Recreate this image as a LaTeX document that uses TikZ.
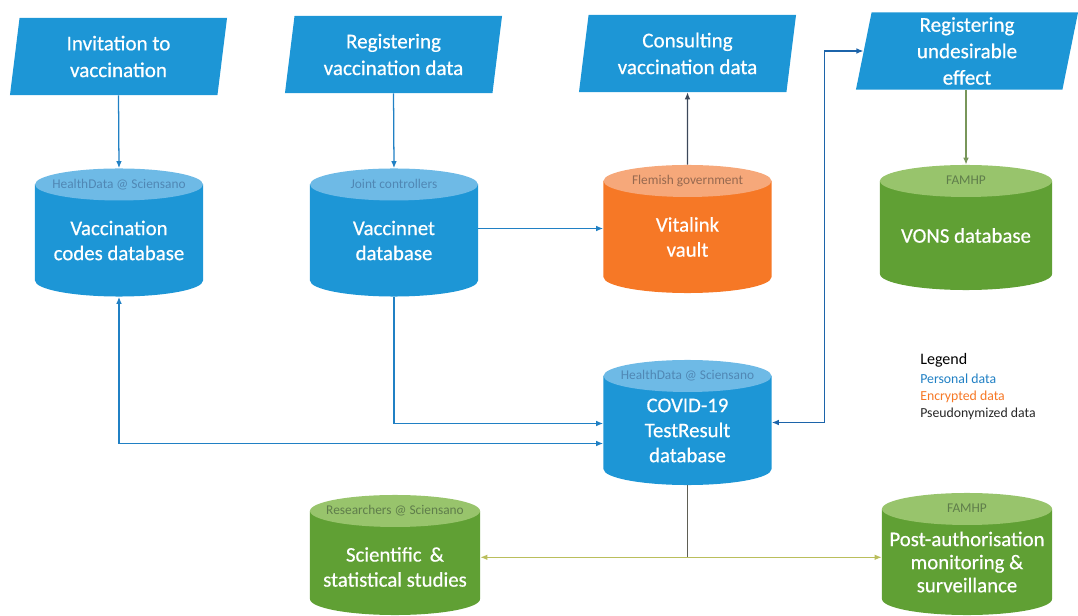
\documentclass[tikz,border=0pt]{standalone}
\usepackage{fontspec}
\setmainfont{Carlito}
\newfontfamily\boxfont{Carlito}[FakeBold=0.5]
\usepackage{tikz}
\usetikzlibrary{shapes.geometric, arrows.meta, calc, positioning}
\definecolor{persblue}{RGB}{29,150,214}
\definecolor{persbluelt}{RGB}{110,186,230}
\definecolor{encorange}{RGB}{246,120,38}
\definecolor{encorangelt}{RGB}{246,168,122}
\definecolor{pseugreen}{RGB}{96,160,52}
\definecolor{pseugreenlt}{RGB}{152,196,108}
\definecolor{linkblue}{RGB}{32,128,196}
\definecolor{linkdeep}{RGB}{28,100,170}
\definecolor{linkdark}{RGB}{60,72,90}
\definecolor{linkgreen}{RGB}{120,150,90}
\definecolor{linkolive}{RGB}{186,190,92}
\definecolor{linkgray}{RGB}{95,95,85}
\definecolor{ownerblue}{RGB}{80,135,180}
\definecolor{ownerorange}{RGB}{150,105,80}
\definecolor{ownergreen}{RGB}{95,125,75}

\begin{document}
\begin{tikzpicture}[
  x=0.025cm, y=-0.025cm,
  >={Latex[length=5pt, width=4pt]},
  io/.style={trapezium, trapezium left angle=77, trapezium right angle=103, trapezium stretches body,
    fill=persblue, text=white, align=center, inner sep=0pt,
    minimum width=5.425cm, minimum height=1.925cm, font=\boxfont\fontsize{15}{19}\selectfont},
  db/.style n args={2}{rectangle, inner sep=0pt, minimum width=4.2cm, minimum height=3.2cm,
    path picture={
      \fill[#1] let \p1=(path picture bounding box.north west), \p2=(path picture bounding box.south east),
        \n1={(\x2-\x1)/2} in
        (\x1,\y1-0.4cm) -- (\x1,\y2+0.4cm) arc[start angle=180, end angle=360, x radius=\n1, y radius=0.4cm]
        -- (\x2,\y1-0.4cm) -- cycle;
      \fill[#2] let \p1=(path picture bounding box.north west), \p2=(path picture bounding box.south east),
        \n1={(\x2-\x1)/2} in
        ({(\x1+\x2)/2},\y1-0.4cm) ellipse[x radius=\n1, y radius=0.4cm];
    }},
  owner/.style={anchor=center, yshift=-0.4cm, inner sep=0pt, font=\fontsize{9.5}{11}\selectfont},
  dbtext/.style={anchor=center, yshift=-0.2cm, text=white, align=center, font=\boxfont\fontsize{14.8}{17.8}\selectfont},
  link/.style={->, line width=0.9pt, draw=linkblue},
  legitem/.style={anchor=west, inner sep=0pt, font=\fontsize{9.8}{11}\selectfont}
]
\useasboundingbox (0,0) rectangle (1078,616);

% --- Eingaben oben ---
\node[io] (inv)  at (118.5,56.5) {Invitation to\\vaccination};
\node[io] (reg)  at (393.5,54.5) {Registering\\vaccination data};
\node[io] (cons) at (687.5,53.5) {Consulting\\vaccination data};
\node[io, minimum width=5.55cm, font=\boxfont\fontsize{15}{18.8}\selectfont] (und) at (967,51) {Registering\\undesirable\\effect};

% --- Datenbanken ---
\node[db={persblue}{persbluelt},
  label={[owner, text=ownerblue]north:HealthData @ Sciensano},
  label={[dbtext]center:Vaccination\\codes database}] (codes) at (119,232.5) {};
\node[db={persblue}{persbluelt},
  label={[owner, text=ownerblue]north:Joint controllers},
  label={[dbtext]center:Vaccinnet\\database}] (vcn) at (394,232.5) {};
\node[db={encorange}{encorangelt},
  label={[owner, text=ownerorange]north:Flemish government},
  label={[dbtext]center:Vitalink\\vault}] (vit) at (687.5,229) {};
\node[db={pseugreen}{pseugreenlt}, minimum width=4.3cm, minimum height=3.125cm,
  label={[owner, text=ownergreen]north:FAMHP},
  label={[dbtext]center:VONS database}] (vons) at (966,227.5) {};
\node[db={persblue}{persbluelt}, minimum height=3.125cm,
  label={[owner, text=ownerblue]north:HealthData @ Sciensano},
  label={[dbtext]center:COVID-19\\TestResult\\database}] (cov) at (687.5,422.5) {};
\node[db={pseugreen}{pseugreenlt}, minimum width=4.25cm, minimum height=3.0cm,
  label={[owner, text=ownergreen]north:Researchers @ Sciensano},
  label={[dbtext, yshift=-0.1cm]center:Scientific \,\&\\statistical studies}] (sci) at (395,555) {};
\node[db={pseugreen}{pseugreenlt}, minimum width=4.25cm, minimum height=3.05cm,
  label={[owner, text=ownergreen]north:FAMHP},
  label={[dbtext, font=\boxfont\fontsize{14.8}{16.4}\selectfont]center:Post-authorisation\\monitoring \&\\surveillance}] (pam) at (967,554) {};

% --- Legende ---
\node[anchor=west, inner sep=0pt, font=\fontsize{11.4}{13}\selectfont] (legend) at (920,360) {Legend};
\node[legitem, text=linkblue] (legpers) at (920,379) {Personal data};
\node[legitem, text=encorange] (legenc) at (920,397) {Encrypted data};
\node[legitem, text=black!85] (legpseu) at (920,414) {Pseudonymized data};

% Verbindungen
\draw[link] (inv.south) -- (codes.north);
\draw[link] (reg.south) -- (vcn.north);
\draw[link] ([yshift=0.1cm]vcn.east) -- ([yshift=0.1cm]vcn.east -| vit.west);
\draw[link, draw=linkdark] (vit.north) -- (cons.south);
\draw[link, draw=linkgreen] (und.south -| vons.north) -- (vons.north);

\draw[link, <->] (codes.south) |- ($(cov.west)+(0,21)$);
\draw[link] (vcn.south) |- ($(cov.west)+(0,1)$);
\draw[link, <->, draw=linkdeep] (cov.east) -- ++(53,0) |- (und.west);

% Aufteilung nach unten
\coordinate (split) at ($(cov.south)+(0,72)$);
\draw[line width=0.9pt, draw=linkgray] (cov.south) -- (split);
\draw[link, draw=linkolive] (split) -- (split -| sci.east);
\draw[link, draw=linkolive] (split) -- (split -| pam.west);
\end{tikzpicture}
\end{document}
